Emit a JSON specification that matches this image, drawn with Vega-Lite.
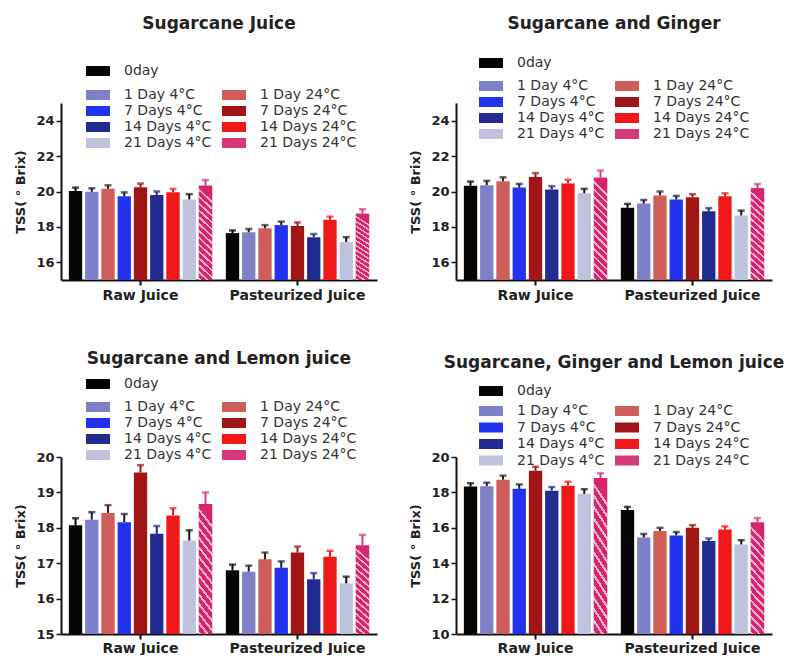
{
  "$schema": "https://vega.github.io/schema/vega-lite/v6.json",
  "background": "white",
  "padding": {"left": 14, "top": 15, "right": 5, "bottom": 0},
  "config": {
    "font": "DejaVu Sans",
    "view": {"stroke": null},
    "axis": {"domainColor": "#111", "domainWidth": 2, "tickColor": "#111", "tickWidth": 1.5, "tickSize": 5, "labelFont": "DejaVu Sans", "labelFontWeight": "bold", "labelColor": "#222", "labelOverlap": false, "grid": false, "titleFont": "DejaVu Sans", "titleFontWeight": "bold", "titleColor": "#222", "titleFontSize": 13, "titlePadding": 8},
    "legend": {"labelFont": "DejaVu Sans", "labelFontSize": 14, "labelColor": "#333", "symbolStrokeWidth": 0, "padding": 0, "titlePadding": 0},
    "title": {"font": "DejaVu Sans", "fontSize": 17, "fontWeight": "bold", "color": "#222", "anchor": "middle"}
  },
  "datasets": {
    "tss": [
      {"panel": "P1", "group": "Raw Juice", "cond": "0day", "mean": 20.03, "upper": 20.22},
      {"panel": "P1", "group": "Raw Juice", "cond": "1 Day 4°C", "mean": 19.98, "upper": 20.18},
      {"panel": "P1", "group": "Raw Juice", "cond": "1 Day 24°C", "mean": 20.15, "upper": 20.35},
      {"panel": "P1", "group": "Raw Juice", "cond": "7 Days 4°C", "mean": 19.73, "upper": 19.95},
      {"panel": "P1", "group": "Raw Juice", "cond": "7 Days 24°C", "mean": 20.24, "upper": 20.45},
      {"panel": "P1", "group": "Raw Juice", "cond": "14 Days 4°C", "mean": 19.8, "upper": 20.0},
      {"panel": "P1", "group": "Raw Juice", "cond": "14 Days 24°C", "mean": 19.96, "upper": 20.15},
      {"panel": "P1", "group": "Raw Juice", "cond": "21 Days 4°C", "mean": 19.55, "upper": 19.85},
      {"panel": "P1", "group": "Raw Juice", "cond": "21 Days 24°C", "mean": 20.33, "upper": 20.65},
      {"panel": "P1", "group": "Pasteurized Juice", "cond": "0day", "mean": 17.65, "upper": 17.8},
      {"panel": "P1", "group": "Pasteurized Juice", "cond": "1 Day 4°C", "mean": 17.7, "upper": 17.88},
      {"panel": "P1", "group": "Pasteurized Juice", "cond": "1 Day 24°C", "mean": 17.92, "upper": 18.1},
      {"panel": "P1", "group": "Pasteurized Juice", "cond": "7 Days 4°C", "mean": 18.1, "upper": 18.3},
      {"panel": "P1", "group": "Pasteurized Juice", "cond": "7 Days 24°C", "mean": 18.05, "upper": 18.25},
      {"panel": "P1", "group": "Pasteurized Juice", "cond": "14 Days 4°C", "mean": 17.42, "upper": 17.6},
      {"panel": "P1", "group": "Pasteurized Juice", "cond": "14 Days 24°C", "mean": 18.4, "upper": 18.58},
      {"panel": "P1", "group": "Pasteurized Juice", "cond": "21 Days 4°C", "mean": 17.15, "upper": 17.42},
      {"panel": "P1", "group": "Pasteurized Juice", "cond": "21 Days 24°C", "mean": 18.75, "upper": 19.0},
      {"panel": "P2", "group": "Raw Juice", "cond": "0day", "mean": 20.33, "upper": 20.56},
      {"panel": "P2", "group": "Raw Juice", "cond": "1 Day 4°C", "mean": 20.36, "upper": 20.6},
      {"panel": "P2", "group": "Raw Juice", "cond": "1 Day 24°C", "mean": 20.58, "upper": 20.8},
      {"panel": "P2", "group": "Raw Juice", "cond": "7 Days 4°C", "mean": 20.22, "upper": 20.43},
      {"panel": "P2", "group": "Raw Juice", "cond": "7 Days 24°C", "mean": 20.82, "upper": 21.04},
      {"panel": "P2", "group": "Raw Juice", "cond": "14 Days 4°C", "mean": 20.12, "upper": 20.3},
      {"panel": "P2", "group": "Raw Juice", "cond": "14 Days 24°C", "mean": 20.45, "upper": 20.67},
      {"panel": "P2", "group": "Raw Juice", "cond": "21 Days 4°C", "mean": 19.9, "upper": 20.15},
      {"panel": "P2", "group": "Raw Juice", "cond": "21 Days 24°C", "mean": 20.78, "upper": 21.18},
      {"panel": "P2", "group": "Pasteurized Juice", "cond": "0day", "mean": 19.08, "upper": 19.3},
      {"panel": "P2", "group": "Pasteurized Juice", "cond": "1 Day 4°C", "mean": 19.32, "upper": 19.52},
      {"panel": "P2", "group": "Pasteurized Juice", "cond": "1 Day 24°C", "mean": 19.78, "upper": 20.0},
      {"panel": "P2", "group": "Pasteurized Juice", "cond": "7 Days 4°C", "mean": 19.55, "upper": 19.75},
      {"panel": "P2", "group": "Pasteurized Juice", "cond": "7 Days 24°C", "mean": 19.68, "upper": 19.85},
      {"panel": "P2", "group": "Pasteurized Juice", "cond": "14 Days 4°C", "mean": 18.88, "upper": 19.06},
      {"panel": "P2", "group": "Pasteurized Juice", "cond": "14 Days 24°C", "mean": 19.73, "upper": 19.9},
      {"panel": "P2", "group": "Pasteurized Juice", "cond": "21 Days 4°C", "mean": 18.65, "upper": 18.92},
      {"panel": "P2", "group": "Pasteurized Juice", "cond": "21 Days 24°C", "mean": 20.18, "upper": 20.42},
      {"panel": "P3", "group": "Raw Juice", "cond": "0day", "mean": 18.07, "upper": 18.27},
      {"panel": "P3", "group": "Raw Juice", "cond": "1 Day 4°C", "mean": 18.23, "upper": 18.44},
      {"panel": "P3", "group": "Raw Juice", "cond": "1 Day 24°C", "mean": 18.42, "upper": 18.64},
      {"panel": "P3", "group": "Raw Juice", "cond": "7 Days 4°C", "mean": 18.16, "upper": 18.39},
      {"panel": "P3", "group": "Raw Juice", "cond": "7 Days 24°C", "mean": 19.56, "upper": 19.77},
      {"panel": "P3", "group": "Raw Juice", "cond": "14 Days 4°C", "mean": 17.83, "upper": 18.05},
      {"panel": "P3", "group": "Raw Juice", "cond": "14 Days 24°C", "mean": 18.35, "upper": 18.55},
      {"panel": "P3", "group": "Raw Juice", "cond": "21 Days 4°C", "mean": 17.64, "upper": 17.93},
      {"panel": "P3", "group": "Raw Juice", "cond": "21 Days 24°C", "mean": 18.67, "upper": 19.0},
      {"panel": "P3", "group": "Pasteurized Juice", "cond": "0day", "mean": 16.8, "upper": 16.96},
      {"panel": "P3", "group": "Pasteurized Juice", "cond": "1 Day 4°C", "mean": 16.76, "upper": 16.93},
      {"panel": "P3", "group": "Pasteurized Juice", "cond": "1 Day 24°C", "mean": 17.11, "upper": 17.3},
      {"panel": "P3", "group": "Pasteurized Juice", "cond": "7 Days 4°C", "mean": 16.87, "upper": 17.05},
      {"panel": "P3", "group": "Pasteurized Juice", "cond": "7 Days 24°C", "mean": 17.3, "upper": 17.47},
      {"panel": "P3", "group": "Pasteurized Juice", "cond": "14 Days 4°C", "mean": 16.55, "upper": 16.72},
      {"panel": "P3", "group": "Pasteurized Juice", "cond": "14 Days 24°C", "mean": 17.18, "upper": 17.35},
      {"panel": "P3", "group": "Pasteurized Juice", "cond": "21 Days 4°C", "mean": 16.43, "upper": 16.62},
      {"panel": "P3", "group": "Pasteurized Juice", "cond": "21 Days 24°C", "mean": 17.5, "upper": 17.8},
      {"panel": "P4", "group": "Raw Juice", "cond": "0day", "mean": 18.33, "upper": 18.52},
      {"panel": "P4", "group": "Raw Juice", "cond": "1 Day 4°C", "mean": 18.35, "upper": 18.55},
      {"panel": "P4", "group": "Raw Juice", "cond": "1 Day 24°C", "mean": 18.72, "upper": 18.95},
      {"panel": "P4", "group": "Raw Juice", "cond": "7 Days 4°C", "mean": 18.2, "upper": 18.45},
      {"panel": "P4", "group": "Raw Juice", "cond": "7 Days 24°C", "mean": 19.22, "upper": 19.45},
      {"panel": "P4", "group": "Raw Juice", "cond": "14 Days 4°C", "mean": 18.1, "upper": 18.3},
      {"panel": "P4", "group": "Raw Juice", "cond": "14 Days 24°C", "mean": 18.38, "upper": 18.6},
      {"panel": "P4", "group": "Raw Juice", "cond": "21 Days 4°C", "mean": 17.92, "upper": 18.18},
      {"panel": "P4", "group": "Raw Juice", "cond": "21 Days 24°C", "mean": 18.82, "upper": 19.08},
      {"panel": "P4", "group": "Pasteurized Juice", "cond": "0day", "mean": 17.0, "upper": 17.18},
      {"panel": "P4", "group": "Pasteurized Juice", "cond": "1 Day 4°C", "mean": 15.45, "upper": 15.65},
      {"panel": "P4", "group": "Pasteurized Juice", "cond": "1 Day 24°C", "mean": 15.82, "upper": 16.0},
      {"panel": "P4", "group": "Pasteurized Juice", "cond": "7 Days 4°C", "mean": 15.57, "upper": 15.76},
      {"panel": "P4", "group": "Pasteurized Juice", "cond": "7 Days 24°C", "mean": 16.0, "upper": 16.15},
      {"panel": "P4", "group": "Pasteurized Juice", "cond": "14 Days 4°C", "mean": 15.25, "upper": 15.4},
      {"panel": "P4", "group": "Pasteurized Juice", "cond": "14 Days 24°C", "mean": 15.9, "upper": 16.08},
      {"panel": "P4", "group": "Pasteurized Juice", "cond": "21 Days 4°C", "mean": 15.06, "upper": 15.3},
      {"panel": "P4", "group": "Pasteurized Juice", "cond": "21 Days 24°C", "mean": 16.3, "upper": 16.55}
    ]
  },
  "data": {"name": "tss"},
  "vconcat": [
    {
      "spacing": 32,
      "hconcat": [
        {
          "title": {"text": "Sugarcane Juice", "offset": 31},
          "width": 316, "height": 177,
          "transform": [{"filter": "datum.panel === 'P1'"}],
          "encoding": {
            "x": {"field": "group", "type": "nominal", "sort": ["Raw Juice", "Pasteurized Juice"], "scale": {"paddingInner": 0.083, "paddingOuter": 0.048}, "axis": {"title": null, "labelAngle": 0, "labelFontSize": 14, "labelPadding": 3, "tickSize": 5, "tickWidth": 2}},
            "xOffset": {"field": "cond", "type": "nominal", "scale": {"domain": ["0day", "1 Day 4°C", "1 Day 24°C", "7 Days 4°C", "7 Days 24°C", "14 Days 4°C", "14 Days 24°C", "21 Days 4°C", "21 Days 24°C"], "paddingInner": 0.18, "paddingOuter": 0.02}}
          },
          "layer": [
            {"mark": "bar", "transform": [{"filter": "datum.cond === '0day'"}],
             "encoding": {"y": {"field": "mean", "type": "quantitative", "scale": {"domain": [15, 25], "zero": false, "nice": false}, "axis": {"title": "TSS( ° Brix)", "values": [16, 18, 20, 22, 24], "tickCount": 20, "format": "d", "labelFontSize": 13, "labelOverlap": false}}, "y2": {"datum": 15},
               "color": {"field": "cond", "type": "nominal", "scale": {"domain": ["0day"], "range": ["#050505"]}, "legend": {"orient": "none", "legendX": 30, "legendY": -39, "title": null, "symbolType": "M-2.4,-1H2.4V1H-2.4Z", "symbolSize": 100, "labelOffset": 19}}}},
            {"mark": "bar", "transform": [{"filter": "datum.cond !== '0day'"}],
             "encoding": {"y": {"field": "mean", "type": "quantitative", "scale": {"domain": [15, 25], "zero": false, "nice": false}, "axis": {"title": "TSS( ° Brix)", "values": [16, 18, 20, 22, 24], "tickCount": 20, "format": "d", "labelFontSize": 13, "labelOverlap": false}}, "y2": {"datum": 15},
               "color": {"field": "cond", "type": "nominal", "scale": {"domain": ["1 Day 4°C", "7 Days 4°C", "14 Days 4°C", "21 Days 4°C", "1 Day 24°C", "7 Days 24°C", "14 Days 24°C", "21 Days 24°C"], "range": ["#8080c8", "#2233ee", "#222c90", "#bec2dc", "#cf5e5a", "#a01515", "#f01818", "#d8397a"]}, "legend": {"orient": "none", "legendX": 30, "legendY": -15, "columns": 2, "columnPadding": 10, "rowPadding": 2, "title": null, "symbolType": "M-2.4,-1H2.4V1H-2.4Z", "symbolSize": 100, "labelOffset": 19}}}},
            {"mark": {"type": "bar", "color": {"gradient": "linear", "x1": 0.13, "y1": 0, "x2": 0, "y2": 1, "stops": [{"offset": 0, "color": "#d6246e"}, {"offset": 0.0464, "color": "#d6246e"}, {"offset": 0.0464, "color": "#f3b3cb"}, {"offset": 0.0714, "color": "#f3b3cb"}, {"offset": 0.0714, "color": "#d6246e"}, {"offset": 0.1179, "color": "#d6246e"}, {"offset": 0.1179, "color": "#f3b3cb"}, {"offset": 0.1429, "color": "#f3b3cb"}, {"offset": 0.1429, "color": "#d6246e"}, {"offset": 0.1893, "color": "#d6246e"}, {"offset": 0.1893, "color": "#f3b3cb"}, {"offset": 0.2143, "color": "#f3b3cb"}, {"offset": 0.2143, "color": "#d6246e"}, {"offset": 0.2607, "color": "#d6246e"}, {"offset": 0.2607, "color": "#f3b3cb"}, {"offset": 0.2857, "color": "#f3b3cb"}, {"offset": 0.2857, "color": "#d6246e"}, {"offset": 0.3321, "color": "#d6246e"}, {"offset": 0.3321, "color": "#f3b3cb"}, {"offset": 0.3571, "color": "#f3b3cb"}, {"offset": 0.3571, "color": "#d6246e"}, {"offset": 0.4036, "color": "#d6246e"}, {"offset": 0.4036, "color": "#f3b3cb"}, {"offset": 0.4286, "color": "#f3b3cb"}, {"offset": 0.4286, "color": "#d6246e"}, {"offset": 0.475, "color": "#d6246e"}, {"offset": 0.475, "color": "#f3b3cb"}, {"offset": 0.5, "color": "#f3b3cb"}, {"offset": 0.5, "color": "#d6246e"}, {"offset": 0.5464, "color": "#d6246e"}, {"offset": 0.5464, "color": "#f3b3cb"}, {"offset": 0.5714, "color": "#f3b3cb"}, {"offset": 0.5714, "color": "#d6246e"}, {"offset": 0.6179, "color": "#d6246e"}, {"offset": 0.6179, "color": "#f3b3cb"}, {"offset": 0.6429, "color": "#f3b3cb"}, {"offset": 0.6429, "color": "#d6246e"}, {"offset": 0.6893, "color": "#d6246e"}, {"offset": 0.6893, "color": "#f3b3cb"}, {"offset": 0.7143, "color": "#f3b3cb"}, {"offset": 0.7143, "color": "#d6246e"}, {"offset": 0.7607, "color": "#d6246e"}, {"offset": 0.7607, "color": "#f3b3cb"}, {"offset": 0.7857, "color": "#f3b3cb"}, {"offset": 0.7857, "color": "#d6246e"}, {"offset": 0.8321, "color": "#d6246e"}, {"offset": 0.8321, "color": "#f3b3cb"}, {"offset": 0.8571, "color": "#f3b3cb"}, {"offset": 0.8571, "color": "#d6246e"}, {"offset": 0.9036, "color": "#d6246e"}, {"offset": 0.9036, "color": "#f3b3cb"}, {"offset": 0.9286, "color": "#f3b3cb"}, {"offset": 0.9286, "color": "#d6246e"}, {"offset": 0.975, "color": "#d6246e"}, {"offset": 0.975, "color": "#f3b3cb"}, {"offset": 1, "color": "#f3b3cb"}]}},
             "transform": [{"filter": "datum.cond === '21 Days 24°C'"}],
             "encoding": {"y": {"field": "mean", "type": "quantitative"}, "y2": {"datum": 15}}},
            {"mark": {"type": "rule", "strokeWidth": 2},
             "encoding": {"y": {"field": "mean", "type": "quantitative"}, "y2": {"field": "upper"},
               "color": {"field": "cond", "type": "nominal", "scale": {"domain": ["0day", "1 Day 4°C", "1 Day 24°C", "7 Days 4°C", "7 Days 24°C", "14 Days 4°C", "14 Days 24°C", "21 Days 4°C", "21 Days 24°C"], "range": ["#050505", "#1a1a3a", "#3a1a1a", "#1a1a3a", "#a01515", "#1e2a8e", "#f01818", "#111111", "#d8397a"]}, "legend": null}}},
            {"mark": {"type": "tick", "thickness": 2.5, "size": 7},
             "encoding": {"y": {"field": "upper", "type": "quantitative"},
               "color": {"field": "cond", "type": "nominal", "scale": {"domain": ["0day", "1 Day 4°C", "1 Day 24°C", "7 Days 4°C", "7 Days 24°C", "14 Days 4°C", "14 Days 24°C", "21 Days 4°C", "21 Days 24°C"], "range": ["#050505", "#1a1a3a", "#3a1a1a", "#1a1a3a", "#a01515", "#1e2a8e", "#f01818", "#111111", "#d8397a"]}, "legend": null}}}
          ],
          "resolve": {"scale": {"color": "independent"}}
        },
        {
          "title": {"text": "Sugarcane and Ginger", "offset": 23},
          "width": 316, "height": 177,
          "transform": [{"filter": "datum.panel === 'P2'"}],
          "encoding": {
            "x": {"field": "group", "type": "nominal", "sort": ["Raw Juice", "Pasteurized Juice"], "scale": {"paddingInner": 0.083, "paddingOuter": 0.048}, "axis": {"title": null, "labelAngle": 0, "labelFontSize": 14, "labelPadding": 3, "tickSize": 5, "tickWidth": 2}},
            "xOffset": {"field": "cond", "type": "nominal", "scale": {"domain": ["0day", "1 Day 4°C", "1 Day 24°C", "7 Days 4°C", "7 Days 24°C", "14 Days 4°C", "14 Days 24°C", "21 Days 4°C", "21 Days 24°C"], "paddingInner": 0.18, "paddingOuter": 0.02}}
          },
          "layer": [
            {"mark": "bar", "transform": [{"filter": "datum.cond === '0day'"}],
             "encoding": {"y": {"field": "mean", "type": "quantitative", "scale": {"domain": [15, 25], "zero": false, "nice": false}, "axis": {"title": "TSS( ° Brix)", "values": [16, 18, 20, 22, 24], "tickCount": 20, "format": "d", "labelFontSize": 13, "labelOverlap": false}}, "y2": {"datum": 15},
               "color": {"field": "cond", "type": "nominal", "scale": {"domain": ["0day"], "range": ["#050505"]}, "legend": {"orient": "none", "legendX": 28, "legendY": -47, "title": null, "symbolType": "M-2.4,-1H2.4V1H-2.4Z", "symbolSize": 100, "labelOffset": 19}}}},
            {"mark": "bar", "transform": [{"filter": "datum.cond !== '0day'"}],
             "encoding": {"y": {"field": "mean", "type": "quantitative", "scale": {"domain": [15, 25], "zero": false, "nice": false}, "axis": {"title": "TSS( ° Brix)", "values": [16, 18, 20, 22, 24], "tickCount": 20, "format": "d", "labelFontSize": 13, "labelOverlap": false}}, "y2": {"datum": 15},
               "color": {"field": "cond", "type": "nominal", "scale": {"domain": ["1 Day 4°C", "7 Days 4°C", "14 Days 4°C", "21 Days 4°C", "1 Day 24°C", "7 Days 24°C", "14 Days 24°C", "21 Days 24°C"], "range": ["#8080c8", "#2233ee", "#222c90", "#bec2dc", "#cf5e5a", "#a01515", "#f01818", "#d8397a"]}, "legend": {"orient": "none", "legendX": 28, "legendY": -24, "columns": 2, "columnPadding": 10, "rowPadding": 2, "title": null, "symbolType": "M-2.4,-1H2.4V1H-2.4Z", "symbolSize": 100, "labelOffset": 19}}}},
            {"mark": {"type": "bar", "color": {"gradient": "linear", "x1": 0.13, "y1": 0, "x2": 0, "y2": 1, "stops": [{"offset": 0, "color": "#d6246e"}, {"offset": 0.0464, "color": "#d6246e"}, {"offset": 0.0464, "color": "#f3b3cb"}, {"offset": 0.0714, "color": "#f3b3cb"}, {"offset": 0.0714, "color": "#d6246e"}, {"offset": 0.1179, "color": "#d6246e"}, {"offset": 0.1179, "color": "#f3b3cb"}, {"offset": 0.1429, "color": "#f3b3cb"}, {"offset": 0.1429, "color": "#d6246e"}, {"offset": 0.1893, "color": "#d6246e"}, {"offset": 0.1893, "color": "#f3b3cb"}, {"offset": 0.2143, "color": "#f3b3cb"}, {"offset": 0.2143, "color": "#d6246e"}, {"offset": 0.2607, "color": "#d6246e"}, {"offset": 0.2607, "color": "#f3b3cb"}, {"offset": 0.2857, "color": "#f3b3cb"}, {"offset": 0.2857, "color": "#d6246e"}, {"offset": 0.3321, "color": "#d6246e"}, {"offset": 0.3321, "color": "#f3b3cb"}, {"offset": 0.3571, "color": "#f3b3cb"}, {"offset": 0.3571, "color": "#d6246e"}, {"offset": 0.4036, "color": "#d6246e"}, {"offset": 0.4036, "color": "#f3b3cb"}, {"offset": 0.4286, "color": "#f3b3cb"}, {"offset": 0.4286, "color": "#d6246e"}, {"offset": 0.475, "color": "#d6246e"}, {"offset": 0.475, "color": "#f3b3cb"}, {"offset": 0.5, "color": "#f3b3cb"}, {"offset": 0.5, "color": "#d6246e"}, {"offset": 0.5464, "color": "#d6246e"}, {"offset": 0.5464, "color": "#f3b3cb"}, {"offset": 0.5714, "color": "#f3b3cb"}, {"offset": 0.5714, "color": "#d6246e"}, {"offset": 0.6179, "color": "#d6246e"}, {"offset": 0.6179, "color": "#f3b3cb"}, {"offset": 0.6429, "color": "#f3b3cb"}, {"offset": 0.6429, "color": "#d6246e"}, {"offset": 0.6893, "color": "#d6246e"}, {"offset": 0.6893, "color": "#f3b3cb"}, {"offset": 0.7143, "color": "#f3b3cb"}, {"offset": 0.7143, "color": "#d6246e"}, {"offset": 0.7607, "color": "#d6246e"}, {"offset": 0.7607, "color": "#f3b3cb"}, {"offset": 0.7857, "color": "#f3b3cb"}, {"offset": 0.7857, "color": "#d6246e"}, {"offset": 0.8321, "color": "#d6246e"}, {"offset": 0.8321, "color": "#f3b3cb"}, {"offset": 0.8571, "color": "#f3b3cb"}, {"offset": 0.8571, "color": "#d6246e"}, {"offset": 0.9036, "color": "#d6246e"}, {"offset": 0.9036, "color": "#f3b3cb"}, {"offset": 0.9286, "color": "#f3b3cb"}, {"offset": 0.9286, "color": "#d6246e"}, {"offset": 0.975, "color": "#d6246e"}, {"offset": 0.975, "color": "#f3b3cb"}, {"offset": 1, "color": "#f3b3cb"}]}},
             "transform": [{"filter": "datum.cond === '21 Days 24°C'"}],
             "encoding": {"y": {"field": "mean", "type": "quantitative"}, "y2": {"datum": 15}}},
            {"mark": {"type": "rule", "strokeWidth": 2},
             "encoding": {"y": {"field": "mean", "type": "quantitative"}, "y2": {"field": "upper"},
               "color": {"field": "cond", "type": "nominal", "scale": {"domain": ["0day", "1 Day 4°C", "1 Day 24°C", "7 Days 4°C", "7 Days 24°C", "14 Days 4°C", "14 Days 24°C", "21 Days 4°C", "21 Days 24°C"], "range": ["#050505", "#1a1a3a", "#3a1a1a", "#1a1a3a", "#a01515", "#1e2a8e", "#f01818", "#111111", "#d8397a"]}, "legend": null}}},
            {"mark": {"type": "tick", "thickness": 2.5, "size": 7},
             "encoding": {"y": {"field": "upper", "type": "quantitative"},
               "color": {"field": "cond", "type": "nominal", "scale": {"domain": ["0day", "1 Day 4°C", "1 Day 24°C", "7 Days 4°C", "7 Days 24°C", "14 Days 4°C", "14 Days 24°C", "21 Days 4°C", "21 Days 24°C"], "range": ["#050505", "#1a1a3a", "#3a1a1a", "#1a1a3a", "#a01515", "#1e2a8e", "#f01818", "#111111", "#d8397a"]}, "legend": null}}}
          ],
          "resolve": {"scale": {"color": "independent"}}
        }
      ]
    },
    {
      "spacing": 32,
      "hconcat": [
        {
          "title": {"text": "Sugarcane and Lemon juice", "offset": 9},
          "width": 316, "height": 177,
          "transform": [{"filter": "datum.panel === 'P3'"}],
          "encoding": {
            "x": {"field": "group", "type": "nominal", "sort": ["Raw Juice", "Pasteurized Juice"], "scale": {"paddingInner": 0.083, "paddingOuter": 0.048}, "axis": {"title": null, "labelAngle": 0, "labelFontSize": 14, "labelPadding": 2, "tickSize": 5, "tickWidth": 2}},
            "xOffset": {"field": "cond", "type": "nominal", "scale": {"domain": ["0day", "1 Day 4°C", "1 Day 24°C", "7 Days 4°C", "7 Days 24°C", "14 Days 4°C", "14 Days 24°C", "21 Days 4°C", "21 Days 24°C"], "paddingInner": 0.18, "paddingOuter": 0.02}}
          },
          "layer": [
            {"mark": "bar", "transform": [{"filter": "datum.cond === '0day'"}],
             "encoding": {"y": {"field": "mean", "type": "quantitative", "scale": {"domain": [15, 20], "zero": false, "nice": false}, "axis": {"title": "TSS( ° Brix)", "values": [15, 16, 17, 18, 19, 20], "tickCount": 20, "format": "d", "labelFontSize": 13, "labelOverlap": false}}, "y2": {"datum": 15},
               "color": {"field": "cond", "type": "nominal", "scale": {"domain": ["0day"], "range": ["#050505"]}, "legend": {"orient": "none", "legendX": 30, "legendY": -80, "title": null, "symbolType": "M-2.4,-1H2.4V1H-2.4Z", "symbolSize": 100, "labelOffset": 19}}}},
            {"mark": "bar", "transform": [{"filter": "datum.cond !== '0day'"}],
             "encoding": {"y": {"field": "mean", "type": "quantitative", "scale": {"domain": [15, 20], "zero": false, "nice": false}, "axis": {"title": "TSS( ° Brix)", "values": [15, 16, 17, 18, 19, 20], "tickCount": 20, "format": "d", "labelFontSize": 13, "labelOverlap": false}}, "y2": {"datum": 15},
               "color": {"field": "cond", "type": "nominal", "scale": {"domain": ["1 Day 4°C", "7 Days 4°C", "14 Days 4°C", "21 Days 4°C", "1 Day 24°C", "7 Days 24°C", "14 Days 24°C", "21 Days 24°C"], "range": ["#8080c8", "#2233ee", "#222c90", "#bec2dc", "#cf5e5a", "#a01515", "#f01818", "#d8397a"]}, "legend": {"orient": "none", "legendX": 30, "legendY": -57, "columns": 2, "columnPadding": 10, "rowPadding": 2, "title": null, "symbolType": "M-2.4,-1H2.4V1H-2.4Z", "symbolSize": 100, "labelOffset": 19}}}},
            {"mark": {"type": "bar", "color": {"gradient": "linear", "x1": 0.13, "y1": 0, "x2": 0, "y2": 1, "stops": [{"offset": 0, "color": "#d6246e"}, {"offset": 0.0464, "color": "#d6246e"}, {"offset": 0.0464, "color": "#f3b3cb"}, {"offset": 0.0714, "color": "#f3b3cb"}, {"offset": 0.0714, "color": "#d6246e"}, {"offset": 0.1179, "color": "#d6246e"}, {"offset": 0.1179, "color": "#f3b3cb"}, {"offset": 0.1429, "color": "#f3b3cb"}, {"offset": 0.1429, "color": "#d6246e"}, {"offset": 0.1893, "color": "#d6246e"}, {"offset": 0.1893, "color": "#f3b3cb"}, {"offset": 0.2143, "color": "#f3b3cb"}, {"offset": 0.2143, "color": "#d6246e"}, {"offset": 0.2607, "color": "#d6246e"}, {"offset": 0.2607, "color": "#f3b3cb"}, {"offset": 0.2857, "color": "#f3b3cb"}, {"offset": 0.2857, "color": "#d6246e"}, {"offset": 0.3321, "color": "#d6246e"}, {"offset": 0.3321, "color": "#f3b3cb"}, {"offset": 0.3571, "color": "#f3b3cb"}, {"offset": 0.3571, "color": "#d6246e"}, {"offset": 0.4036, "color": "#d6246e"}, {"offset": 0.4036, "color": "#f3b3cb"}, {"offset": 0.4286, "color": "#f3b3cb"}, {"offset": 0.4286, "color": "#d6246e"}, {"offset": 0.475, "color": "#d6246e"}, {"offset": 0.475, "color": "#f3b3cb"}, {"offset": 0.5, "color": "#f3b3cb"}, {"offset": 0.5, "color": "#d6246e"}, {"offset": 0.5464, "color": "#d6246e"}, {"offset": 0.5464, "color": "#f3b3cb"}, {"offset": 0.5714, "color": "#f3b3cb"}, {"offset": 0.5714, "color": "#d6246e"}, {"offset": 0.6179, "color": "#d6246e"}, {"offset": 0.6179, "color": "#f3b3cb"}, {"offset": 0.6429, "color": "#f3b3cb"}, {"offset": 0.6429, "color": "#d6246e"}, {"offset": 0.6893, "color": "#d6246e"}, {"offset": 0.6893, "color": "#f3b3cb"}, {"offset": 0.7143, "color": "#f3b3cb"}, {"offset": 0.7143, "color": "#d6246e"}, {"offset": 0.7607, "color": "#d6246e"}, {"offset": 0.7607, "color": "#f3b3cb"}, {"offset": 0.7857, "color": "#f3b3cb"}, {"offset": 0.7857, "color": "#d6246e"}, {"offset": 0.8321, "color": "#d6246e"}, {"offset": 0.8321, "color": "#f3b3cb"}, {"offset": 0.8571, "color": "#f3b3cb"}, {"offset": 0.8571, "color": "#d6246e"}, {"offset": 0.9036, "color": "#d6246e"}, {"offset": 0.9036, "color": "#f3b3cb"}, {"offset": 0.9286, "color": "#f3b3cb"}, {"offset": 0.9286, "color": "#d6246e"}, {"offset": 0.975, "color": "#d6246e"}, {"offset": 0.975, "color": "#f3b3cb"}, {"offset": 1, "color": "#f3b3cb"}]}},
             "transform": [{"filter": "datum.cond === '21 Days 24°C'"}],
             "encoding": {"y": {"field": "mean", "type": "quantitative"}, "y2": {"datum": 15}}},
            {"mark": {"type": "rule", "strokeWidth": 2},
             "encoding": {"y": {"field": "mean", "type": "quantitative"}, "y2": {"field": "upper"},
               "color": {"field": "cond", "type": "nominal", "scale": {"domain": ["0day", "1 Day 4°C", "1 Day 24°C", "7 Days 4°C", "7 Days 24°C", "14 Days 4°C", "14 Days 24°C", "21 Days 4°C", "21 Days 24°C"], "range": ["#050505", "#1a1a3a", "#3a1a1a", "#1a1a3a", "#a01515", "#1e2a8e", "#f01818", "#111111", "#d8397a"]}, "legend": null}}},
            {"mark": {"type": "tick", "thickness": 2.5, "size": 7},
             "encoding": {"y": {"field": "upper", "type": "quantitative"},
               "color": {"field": "cond", "type": "nominal", "scale": {"domain": ["0day", "1 Day 4°C", "1 Day 24°C", "7 Days 4°C", "7 Days 24°C", "14 Days 4°C", "14 Days 24°C", "21 Days 4°C", "21 Days 24°C"], "range": ["#050505", "#1a1a3a", "#3a1a1a", "#1a1a3a", "#a01515", "#1e2a8e", "#f01818", "#111111", "#d8397a"]}, "legend": null}}}
          ],
          "resolve": {"scale": {"color": "independent"}}
        },
        {
          "title": {"text": "Sugarcane, Ginger and Lemon juice", "offset": 12},
          "width": 316, "height": 177,
          "transform": [{"filter": "datum.panel === 'P4'"}],
          "encoding": {
            "x": {"field": "group", "type": "nominal", "sort": ["Raw Juice", "Pasteurized Juice"], "scale": {"paddingInner": 0.083, "paddingOuter": 0.048}, "axis": {"title": null, "labelAngle": 0, "labelFontSize": 14, "labelPadding": 2, "tickSize": 5, "tickWidth": 2}},
            "xOffset": {"field": "cond", "type": "nominal", "scale": {"domain": ["0day", "1 Day 4°C", "1 Day 24°C", "7 Days 4°C", "7 Days 24°C", "14 Days 4°C", "14 Days 24°C", "21 Days 4°C", "21 Days 24°C"], "paddingInner": 0.18, "paddingOuter": 0.02}}
          },
          "layer": [
            {"mark": "bar", "transform": [{"filter": "datum.cond === '0day'"}],
             "encoding": {"y": {"field": "mean", "type": "quantitative", "scale": {"domain": [10, 20], "zero": false, "nice": false}, "axis": {"title": "TSS( ° Brix)", "values": [10, 12, 14, 16, 18, 20], "tickCount": 20, "format": "d", "labelFontSize": 13, "labelOverlap": false}}, "y2": {"datum": 10},
               "color": {"field": "cond", "type": "nominal", "scale": {"domain": ["0day"], "range": ["#050505"]}, "legend": {"orient": "none", "legendX": 28, "legendY": -73, "title": null, "symbolType": "M-2.4,-1H2.4V1H-2.4Z", "symbolSize": 100, "labelOffset": 19}}}},
            {"mark": "bar", "transform": [{"filter": "datum.cond !== '0day'"}],
             "encoding": {"y": {"field": "mean", "type": "quantitative", "scale": {"domain": [10, 20], "zero": false, "nice": false}, "axis": {"title": "TSS( ° Brix)", "values": [10, 12, 14, 16, 18, 20], "tickCount": 20, "format": "d", "labelFontSize": 13, "labelOverlap": false}}, "y2": {"datum": 10},
               "color": {"field": "cond", "type": "nominal", "scale": {"domain": ["1 Day 4°C", "7 Days 4°C", "14 Days 4°C", "21 Days 4°C", "1 Day 24°C", "7 Days 24°C", "14 Days 24°C", "21 Days 24°C"], "range": ["#8080c8", "#2233ee", "#222c90", "#bec2dc", "#cf5e5a", "#a01515", "#f01818", "#d8397a"]}, "legend": {"orient": "none", "legendX": 28, "legendY": -53, "columns": 2, "columnPadding": 10, "rowPadding": 2.5, "title": null, "symbolType": "M-2.4,-1H2.4V1H-2.4Z", "symbolSize": 100, "labelOffset": 19}}}},
            {"mark": {"type": "bar", "color": {"gradient": "linear", "x1": 0.13, "y1": 0, "x2": 0, "y2": 1, "stops": [{"offset": 0, "color": "#d6246e"}, {"offset": 0.0464, "color": "#d6246e"}, {"offset": 0.0464, "color": "#f3b3cb"}, {"offset": 0.0714, "color": "#f3b3cb"}, {"offset": 0.0714, "color": "#d6246e"}, {"offset": 0.1179, "color": "#d6246e"}, {"offset": 0.1179, "color": "#f3b3cb"}, {"offset": 0.1429, "color": "#f3b3cb"}, {"offset": 0.1429, "color": "#d6246e"}, {"offset": 0.1893, "color": "#d6246e"}, {"offset": 0.1893, "color": "#f3b3cb"}, {"offset": 0.2143, "color": "#f3b3cb"}, {"offset": 0.2143, "color": "#d6246e"}, {"offset": 0.2607, "color": "#d6246e"}, {"offset": 0.2607, "color": "#f3b3cb"}, {"offset": 0.2857, "color": "#f3b3cb"}, {"offset": 0.2857, "color": "#d6246e"}, {"offset": 0.3321, "color": "#d6246e"}, {"offset": 0.3321, "color": "#f3b3cb"}, {"offset": 0.3571, "color": "#f3b3cb"}, {"offset": 0.3571, "color": "#d6246e"}, {"offset": 0.4036, "color": "#d6246e"}, {"offset": 0.4036, "color": "#f3b3cb"}, {"offset": 0.4286, "color": "#f3b3cb"}, {"offset": 0.4286, "color": "#d6246e"}, {"offset": 0.475, "color": "#d6246e"}, {"offset": 0.475, "color": "#f3b3cb"}, {"offset": 0.5, "color": "#f3b3cb"}, {"offset": 0.5, "color": "#d6246e"}, {"offset": 0.5464, "color": "#d6246e"}, {"offset": 0.5464, "color": "#f3b3cb"}, {"offset": 0.5714, "color": "#f3b3cb"}, {"offset": 0.5714, "color": "#d6246e"}, {"offset": 0.6179, "color": "#d6246e"}, {"offset": 0.6179, "color": "#f3b3cb"}, {"offset": 0.6429, "color": "#f3b3cb"}, {"offset": 0.6429, "color": "#d6246e"}, {"offset": 0.6893, "color": "#d6246e"}, {"offset": 0.6893, "color": "#f3b3cb"}, {"offset": 0.7143, "color": "#f3b3cb"}, {"offset": 0.7143, "color": "#d6246e"}, {"offset": 0.7607, "color": "#d6246e"}, {"offset": 0.7607, "color": "#f3b3cb"}, {"offset": 0.7857, "color": "#f3b3cb"}, {"offset": 0.7857, "color": "#d6246e"}, {"offset": 0.8321, "color": "#d6246e"}, {"offset": 0.8321, "color": "#f3b3cb"}, {"offset": 0.8571, "color": "#f3b3cb"}, {"offset": 0.8571, "color": "#d6246e"}, {"offset": 0.9036, "color": "#d6246e"}, {"offset": 0.9036, "color": "#f3b3cb"}, {"offset": 0.9286, "color": "#f3b3cb"}, {"offset": 0.9286, "color": "#d6246e"}, {"offset": 0.975, "color": "#d6246e"}, {"offset": 0.975, "color": "#f3b3cb"}, {"offset": 1, "color": "#f3b3cb"}]}},
             "transform": [{"filter": "datum.cond === '21 Days 24°C'"}],
             "encoding": {"y": {"field": "mean", "type": "quantitative"}, "y2": {"datum": 10}}},
            {"mark": {"type": "rule", "strokeWidth": 2},
             "encoding": {"y": {"field": "mean", "type": "quantitative"}, "y2": {"field": "upper"},
               "color": {"field": "cond", "type": "nominal", "scale": {"domain": ["0day", "1 Day 4°C", "1 Day 24°C", "7 Days 4°C", "7 Days 24°C", "14 Days 4°C", "14 Days 24°C", "21 Days 4°C", "21 Days 24°C"], "range": ["#050505", "#1a1a3a", "#3a1a1a", "#1a1a3a", "#a01515", "#1e2a8e", "#f01818", "#111111", "#d8397a"]}, "legend": null}}},
            {"mark": {"type": "tick", "thickness": 2.5, "size": 7},
             "encoding": {"y": {"field": "upper", "type": "quantitative"},
               "color": {"field": "cond", "type": "nominal", "scale": {"domain": ["0day", "1 Day 4°C", "1 Day 24°C", "7 Days 4°C", "7 Days 24°C", "14 Days 4°C", "14 Days 24°C", "21 Days 4°C", "21 Days 24°C"], "range": ["#050505", "#1a1a3a", "#3a1a1a", "#1a1a3a", "#a01515", "#1e2a8e", "#f01818", "#111111", "#d8397a"]}, "legend": null}}}
          ],
          "resolve": {"scale": {"color": "independent"}}
        }
      ]
    }
  ],
  "spacing": 48
}
